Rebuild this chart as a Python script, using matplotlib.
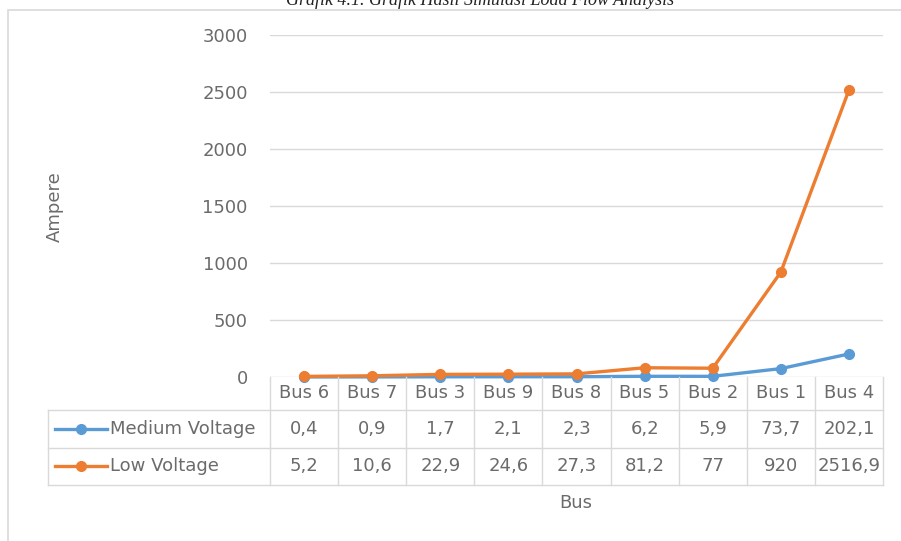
import matplotlib.pyplot as plt
from matplotlib.lines import Line2D
from matplotlib.patches import Rectangle

# data
buses = ['Bus 6', 'Bus 7', 'Bus 3', 'Bus 9', 'Bus 8', 'Bus 5', 'Bus 2', 'Bus 1', 'Bus 4']
medium_voltage = [0.4, 0.9, 1.7, 2.1, 2.3, 6.2, 5.9, 73.7, 202.1]
low_voltage = [5.2, 10.6, 22.9, 24.6, 27.3, 81.2, 77, 920, 2516.9]
medium_labels = ['0,4', '0,9', '1,7', '2,1', '2,3', '6,2', '5,9', '73,7', '202,1']
low_labels = ['5,2', '10,6', '22,9', '24,6', '27,3', '81,2', '77', '920', '2516,9']
yticks = [0, 500, 1000, 1500, 2000, 2500, 3000]

blue = '#5B9BD5'
orange = '#ED7D31'
txt = '#6b6b6b'
grid = '#d9d9d9'
fs = 13

plt.rcParams['font.family'] = ['DejaVu Sans']

W, H = 901, 541
fig = plt.figure(figsize=(W / 100, H / 100), dpi=100)


def fx(px):
    return px / W


def fy(py):
    return 1 - py / H


# plot area in pixels
left, right, top, bottom = 270, 883, 35, 377
ax = fig.add_axes([fx(left), fy(bottom), fx(right - left), (bottom - top) / H])

x = list(range(len(buses)))
ax.plot(x, medium_voltage, color=blue, lw=2.4, marker='o', ms=7, zorder=3, clip_on=False)
ax.plot(x, low_voltage, color=orange, lw=2.4, marker='o', ms=7, zorder=4, clip_on=False)

ax.set_xlim(-0.5, len(buses) - 0.5)
ax.set_ylim(0, 3000)
ax.set_yticks(yticks)
ax.set_yticklabels([str(t) for t in yticks], color=txt, fontsize=fs)
ax.set_xticks([])
ax.tick_params(axis='y', length=0, pad=16)
ax.grid(axis='y', color=grid, lw=1)
ax.set_axisbelow(True)
for s in ax.spines.values():
    s.set_visible(False)

# chart border
fig.patches.append(Rectangle((fx(8), fy(560)), fx(920), (560 - 10) / H,
                             transform=fig.transFigure, fill=False,
                             edgecolor='#d9d9d9', lw=1.2))

# data table below the plot
col_w = (right - left) / len(buses)
tab_left = 48
row_lines = [410, 448, 485]


def hline(y, x0, x1):
    fig.add_artist(Line2D([fx(x0), fx(x1)], [fy(y), fy(y)], color=grid, lw=1))


def vline(xp, y0, y1):
    fig.add_artist(Line2D([fx(xp), fx(xp)], [fy(y0), fy(y1)], color=grid, lw=1))


for y in row_lines:
    hline(y, tab_left, right)
vline(tab_left, row_lines[0], row_lines[-1])
for k in range(len(buses) + 1):
    vline(left + k * col_w, bottom, row_lines[-1])

rows_y = [429, 466]
for i, b in enumerate(buses):
    cx = left + (i + 0.5) * col_w
    fig.text(fx(cx), fy(393), b, ha='center', va='center', color=txt, fontsize=fs)
    fig.text(fx(cx), fy(rows_y[0]), medium_labels[i], ha='center', va='center', color=txt, fontsize=fs)
    fig.text(fx(cx), fy(rows_y[1]), low_labels[i], ha='center', va='center', color=txt, fontsize=fs)

# legend keys inside the table
for y, c, name in zip(rows_y, [blue, orange], ['Medium Voltage', 'Low Voltage']):
    fig.add_artist(Line2D([fx(55), fx(107)], [fy(y), fy(y)], color=c, lw=2.4))
    fig.add_artist(Line2D([fx(81)], [fy(y)], color=c, marker='o', ms=7, lw=0))
    fig.text(fx(110), fy(y), name, ha='left', va='center', color=txt, fontsize=fs)

fig.text(fx(576), fy(503), 'Bus', ha='center', va='center', color=txt, fontsize=fs)
fig.text(fx(55), fy(207), 'Ampere', ha='center', va='center', rotation=90, color=txt, fontsize=fs)

# caption, cut off at the top edge as in the source
fig.text(fx(480), fy(5), 'Grafik 4.1. Grafik Hasil Simulasi Load Flow Analysis',
         ha='center', va='baseline', fontsize=13, style='italic',
         family='Liberation Serif', color='#222222')

fig.savefig('out.png', dpi=100)
